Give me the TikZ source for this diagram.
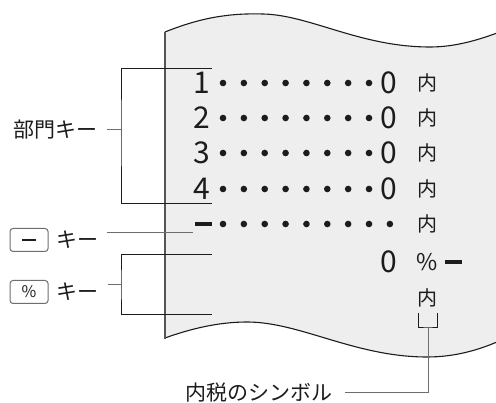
\documentclass[tikz,border=0pt]{standalone}
\usepackage{fontspec}
\setmainfont{Noto Sans CJK JP}
\newfontfamily\jpfont{Noto Sans CJK JP}
\usetikzlibrary{positioning,calc}
\definecolor{Paper_Gray}{HTML}{EDEEED}
\definecolor{Edge_Gray}{HTML}{555555}
\definecolor{Lead_Gray}{HTML}{6E6E6E}
\definecolor{Ink_Black}{HTML}{1C1C1C}
\tikzset{
  paperwave/.style={draw=Ink_Black, line width=1.1pt},
  bracketline/.style={draw=Ink_Black, line width=0.8pt},
  leadline/.style={draw=Lead_Gray, line width=1pt},
  keycap/.style={draw=Lead_Gray, rounded corners=3pt, line width=1pt, minimum width=38pt, minimum height=23pt, inner sep=0pt, text=Ink_Black},
  jplbl/.style={font=\jpfont\fontsize{21}{21}\selectfont, text=Ink_Black, inner sep=0pt},
  digit/.style={font=\fontsize{30}{30}\selectfont, text=Ink_Black, inner sep=0pt},
  naimark/.style={font=\jpfont\fontsize{20}{20}\selectfont, text=Ink_Black, inner sep=0pt},
  dotfill/.style={fill=Ink_Black},
  thickdash/.style={draw=Ink_Black, line width=4pt}
}
\begin{document}
\begin{tikzpicture}[x=1pt, y=-1pt]
    \useasboundingbox (0,0) rectangle (496,403);

    % Receipt paper
    \fill[Paper_Gray] (165,32) .. controls (200,18) and (228,13) .. (263,14)
        .. controls (310,15) and (360,47) .. (430,47)
        .. controls (455,47) and (478,40) .. (497,33)
        -- (497,342) .. controls (478,350) and (455,357) .. (427,357)
        .. controls (355,357) and (300,322) .. (247,322)
        .. controls (218,322) and (190,329) .. (165,338) -- cycle;
    \draw[paperwave] (165,32) .. controls (200,18) and (228,13) .. (263,14)
        .. controls (310,15) and (360,47) .. (430,47)
        .. controls (455,47) and (478,40) .. (497,33);
    \draw[paperwave] (165,338) .. controls (190,329) and (218,322) .. (247,322)
        .. controls (300,322) and (355,357) .. (427,357)
        .. controls (455,357) and (478,350) .. (497,342);
    \draw[draw=Edge_Gray, line width=1.3pt] (165,32) -- (165,339);

    % Department rows
    \foreach \n/\yy in {1/83, 2/118, 3/153, 4/189} {
        \node[digit] (dep\n) at (202,\yy) {\n};
        \foreach \k in {0,...,7}
            \fill[dotfill] (223+20.86*\k,\yy) circle[radius=3.3pt];
        \node[digit] (sum\n) at (389,\yy) {0};
        \node[naimark] (tax\n) at (427,\yy) {内};
    }

    % Minus row
    \coordinate (minusBarL) at (195,224);
    \coordinate (minusBarR) at (212,224);
    \draw[thickdash] (minusBarL) -- (minusBarR);
    \foreach \k in {0,...,8}
        \fill[dotfill] (223+20.86*\k,224) circle[radius=3.3pt];
    \node[naimark] (tax5) at (427,224) {内};

    % Percent row
    \node[digit] (zeroPct) at (389,262) {0};
    \node[naimark, font=\jpfont\fontsize{23}{23}\selectfont] (pctSign) at (427,262) {\%};
    \coordinate (pctBarL) at (445,262);
    \coordinate (pctBarR) at (462,262);
    \draw[thickdash] (pctBarL) -- (pctBarR);
    \node[naimark] (taxMark) at (427,298) {内};

    % Department key label and bracket
    \node[jplbl, anchor=east] (bumon) at (98,130) {部門キー};
    \coordinate (bumonSpine) at (121,130);
    \coordinate (bumonTop) at (212,68);
    \coordinate (bumonBot) at (212,203);
    \draw[bracketline] (bumonTop) -| (bumonSpine) |- (bumonBot);
    \draw[leadline] ([xshift=9pt]bumon.east) -- (bumonSpine);

    % Minus key
    \node[keycap] (minusKey) at (29,240) {};
    \draw[draw=Ink_Black, line width=1.4pt] ([xshift=-7pt]minusKey.center) -- ([xshift=7pt]minusKey.center);
    \node[jplbl, right=8pt of minusKey] (minusLbl) {キー};
    \coordinate (minusFrom) at (107,233);
    \coordinate (minusTo) at (193,233);
    \draw[leadline] (minusFrom) -- (minusTo);

    % Percent key
    \node[keycap, font=\fontsize{16}{16}\selectfont] (pctKey) at (29,292) {\%};
    \node[jplbl, right=8pt of pctKey] (pctLbl) {キー};
    \coordinate (pctSpine) at (121,285);
    \coordinate (pctTop) at (212,254);
    \coordinate (pctBot) at (212,314);
    \draw[bracketline] (pctTop) -| (pctSpine) |- (pctBot);
    \draw[leadline] ([xshift=9pt]pctLbl.east |- pctSpine) -- (pctSpine);

    % Tax symbol callout
    \coordinate (symL) at (418,313);
    \coordinate (symR) at (437,313);
    \coordinate (symMid) at (428,327);
    \draw[bracketline] (symL) |- (symMid) -| (symR);
    \node[jplbl, anchor=east] (symLbl) at (333,393) {内税のシンボル};
    \draw[leadline] (symMid) |- ([xshift=12pt]symLbl.east);

\end{tikzpicture}
\end{document}
